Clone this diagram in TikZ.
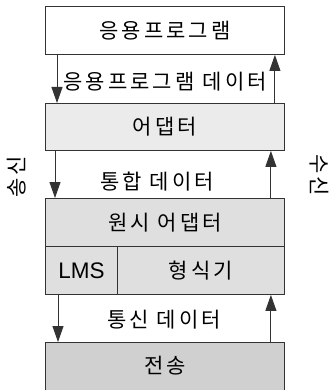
\documentclass[tikz,border=0pt]{standalone}
\usepackage{fontspec}
\setmainfont{Noto Sans CJK KR}[LetterSpace=15]
\newfontfamily\latinfont{Liberation Sans}
\usetikzlibrary{arrows.meta,calc}
\definecolor{edge}{HTML}{333333}
\definecolor{fillA}{HTML}{EBEBEB}
\definecolor{fillB}{HTML}{DFDFDF}
\definecolor{fillC}{HTML}{D0D0D0}
\tikzset{
  box/.style={draw=edge, line width=0.9pt, anchor=north west, inner sep=0pt},
  lbl/.style={inner sep=0pt, font=\fontsize{21}{24}\selectfont},
  dlbl/.style={inner sep=0pt, font=\fontsize{21}{24}\selectfont},
  flow/.style={draw=edge, line width=0.9pt, -{Triangle[width=11pt,length=16pt]}},
}
\begin{document}
\begin{tikzpicture}[x=1pt,y=-1pt]
\useasboundingbox (0,0) rectangle (331,390);
\node[box, minimum width=239pt, minimum height=48pt] (app) at (45,6) {};
\node[lbl] at (app.center) {응용프로그램};
\node[box, fill=fillA, minimum width=239pt, minimum height=47pt] (adp) at (45,103) {};
\node[lbl] at (adp.center) {어댑터};
\node[box, fill=fillB, minimum width=239pt, minimum height=48pt] (prim) at (45,198) {};
\node[lbl] at (prim.center) {원시 어댑터};
\node[box, fill=fillB, minimum width=72pt, minimum height=48pt] (lms) at (45,246) {};
\node[lbl, font=\latinfont\fontsize{22.5}{26}\selectfont] at (lms.center) {LMS};
\node[box, fill=fillC, minimum width=239pt, minimum height=50pt] (tx) at (45,342) {};
\node[box, fill=fillB, minimum width=167pt, minimum height=48pt] (fmt) at (117,246) {};
\node[lbl] at (fmt.center) {형식기};
\node[lbl] at ($(tx.north)+(0,24)$) {전송};
\draw[flow] ([xshift=12pt]app.south west) -- ([xshift=12pt]adp.north west);
\draw[flow] ([xshift=-10pt]adp.north east) -- ([xshift=-10pt]app.south east);
\draw[flow] ([xshift=10pt]adp.south west) -- ([xshift=10pt]prim.north west);
\draw[flow] ([xshift=-14pt]prim.north east) -- ([xshift=-14pt]adp.south east);
\draw[flow] ([xshift=13pt]lms.south west) -- ([xshift=13pt]tx.north west);
\draw[flow] ([xshift=-14pt]tx.north east) -- ([xshift=-14pt]fmt.south east);
\node[dlbl] (d1) at (165,82) {응용프로그램 데이터};
\node[dlbl] (d2) at (157,182) {통합 데이터};
\node[dlbl] (d3) at (164,320) {통신 데이터};
\node[dlbl, rotate=90] (snd) at (17,177) {송신};
\node[dlbl, rotate=-90] (rcv) at (319,175) {수신};
\end{tikzpicture}
\end{document}
